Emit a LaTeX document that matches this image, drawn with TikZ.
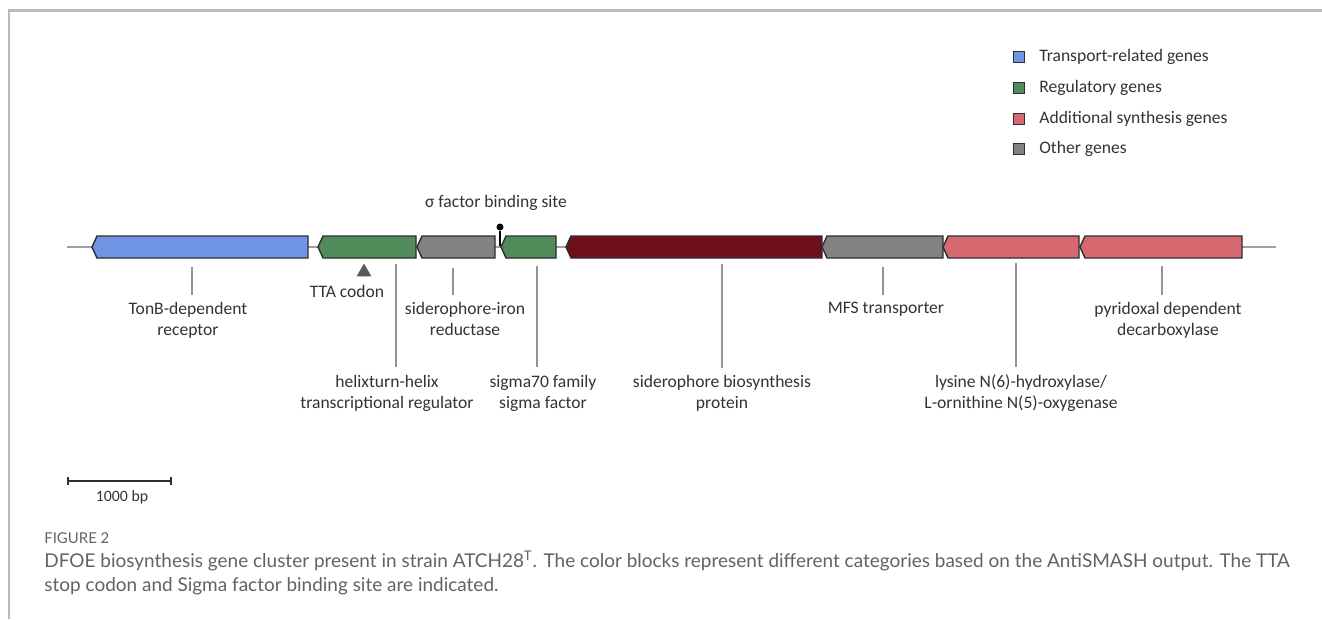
\documentclass[tikz,border=0pt]{standalone}
\usepackage{fontspec}
\setmainfont{Carlito}
\newfontfamily\capfont{Lato}
\usetikzlibrary{arrows.meta, positioning, shapes.geometric}

\definecolor{trblue}{HTML}{7094E4}
\definecolor{rggreen}{HTML}{508C5A}
\definecolor{othgray}{HTML}{828282}
\definecolor{sbpred}{HTML}{6E101C}
\definecolor{addred}{HTML}{D66870}
\definecolor{outl}{HTML}{2E2E2E}
\definecolor{txt}{HTML}{333333}
\definecolor{capgray}{HTML}{626262}

\begin{document}
\begin{tikzpicture}[
x=0.02cm, y=-0.02cm,
gene/.style={draw=outl, line width=0.8pt, line join=miter},
backbone/.style={draw=gray!75, line width=0.7pt},
lead/.style={draw=gray!85, line width=0.7pt, shorten >=4pt},
lbl/.style={align=center, text=txt, font=\fontsize{10}{12}\selectfont, inner sep=0pt},
legbox/.style={draw=outl, line width=0.5pt, minimum size=0.22cm, inner sep=0pt, outer sep=0pt},
legtext/.style={text=txt, font=\fontsize{10}{12}\selectfont, inner sep=0pt},
tta/.style={regular polygon, regular polygon sides=3, fill=black!65, inner sep=0pt, minimum size=0.34cm},
scalebar/.style={{Bar[width=4.5pt]}-{Bar[width=4.5pt]}, draw=outl, line width=1pt},
frame/.style={draw=gray!55, line width=1.2pt},
capline/.style={anchor=west, text=capgray, inner sep=0pt, font=\capfont\fontsize{10.8}{13}\selectfont}
]
\useasboundingbox (0,0) rectangle (1322,619);
\draw[frame] (9,619) -- (9,10.5) -- (1322,10.5);

% legend
\node[legbox, fill=trblue] (k1) at (1019,57) {};
\node[legbox, fill=rggreen] (k2) at (1019,88) {};
\node[legbox, fill=addred] (k3) at (1019,119) {};
\node[legbox, fill=othgray] (k4) at (1019,149) {};
\node[legtext, right=0.29cm of k1] (k1t) {Transport-related genes};
\node[legtext, right=0.29cm of k2] (k2t) {Regulatory genes};
\node[legtext, right=0.29cm of k3] (k3t) {Additional synthesis genes};
\node[legtext, right=0.29cm of k4] (k4t) {Other genes};

% backbone and genes
\coordinate (bbL) at (67,247);
\coordinate (bbR) at (1276,247);
\draw[backbone] (bbL) -- (bbR);
\foreach \l/\r/\c in {92/308/trblue, 318/416/rggreen, 417/495/othgray, 501/556/rggreen,
  566/822/sbpred, 822/943/othgray, 943/1079/addred, 1080/1242/addred}
  \draw[gene, fill=\c] (\l,247) -- (\l+5,236) -- (\r,236) -- (\r,258) -- (\l+5,258) -- cycle;

% sigma factor binding site
\node[lbl] (sitelab) at (496,203) {σ factor binding site};
\node[circle, fill=black, minimum size=0.14cm, inner sep=0pt] (sitedot) at (500,227) {};
\coordinate (sitebase) at (500,246);
\draw[line width=0.8pt] (sitebase) -- (sitedot);

% TTA codon
\node[tta] (ttamark) at (364,272) {};
\node[lbl] (ttalab) at (347,291) {TTA codon};

% gene labels
\coordinate (tonb) at (192,267);
\coordinate (hth) at (396,264);
\coordinate (sir) at (453,268);
\coordinate (sig) at (537,266);
\coordinate (sbp) at (722,264);
\coordinate (mfs) at (883,267);
\coordinate (lys) at (1016,263);
\coordinate (pdc) at (1162,266);

\node[lbl] (tonblab) at (188,320) {TonB-dependent\\receptor};
\node[lbl] (hthlab) at (387,393) {helixturn-helix\\transcriptional regulator};
\node[lbl] (sirlab) at (465,319) {siderophore-iron\\reductase};
\node[lbl] (siglab) at (543,393) {sigma70 family\\sigma factor};
\node[lbl] (sbplab) at (722,393) {siderophore biosynthesis\\protein};
\node[lbl] (mfslab) at (886,309) {MFS transporter};
\node[lbl] (lyslab) at (1021,393) {lysine N(6)-hydroxylase/\\L-ornithine N(5)-oxygenase};
\node[lbl] (pdclab) at (1168,320) {pyridoxal dependent\\decarboxylase};

\foreach \a/\b in {tonb/tonblab, hth/hthlab, sir/sirlab, sig/siglab,
  sbp/sbplab, mfs/mfslab, lys/lyslab, pdc/pdclab}
  \draw[lead] (\a) -- (\a |- \b.north);

% scale bar
\coordinate (sb0) at (67,481);
\coordinate (sb1) at (172,481);
\draw[scalebar] (sb0) -- (sb1);
\node[lbl, font=\fontsize{9}{11}\selectfont] (sblab) at (122,497) {1000 bp};

% caption
\node[capline, font=\capfont\fontsize{8.5}{10}\selectfont] (fig) at (44,538) {FIGURE 2};
\node[capline] (cap1) at (44,561) {DFOE biosynthesis gene cluster present in strain ATCH28\textsuperscript{T}. The color blocks represent different categories based on the AntiSMASH output. The TTA};
\node[capline] (cap2) at (44,586) {stop codon and Sigma factor binding site are indicated.};

\end{tikzpicture}
\end{document}
